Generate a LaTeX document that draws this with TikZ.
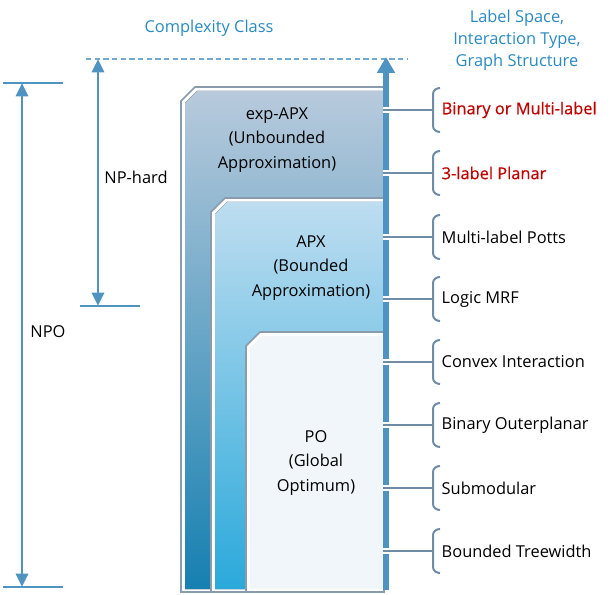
\documentclass[tikz,border=0pt]{standalone}
\usepackage{fontspec}
\setmainfont{Open Sans}
\newfontfamily\hardfont{Open Sans}[FakeBold=0.5]
\usetikzlibrary{arrows.meta,positioning}

\definecolor{axisblue}{HTML}{4F93C0}
\definecolor{headblue}{HTML}{2A8AC0}
\definecolor{hardred}{HTML}{C00000}
\definecolor{rimgrey}{HTML}{8A9CAC}
\definecolor{bracegrey}{HTML}{6F8CA6}
\definecolor{exptop}{RGB}{184,202,220}
\definecolor{expbot}{RGB}{22,128,176}
\definecolor{apxtop}{RGB}{190,221,240}
\definecolor{apxbot}{RGB}{42,169,219}
\definecolor{pofill}{RGB}{240,246,249}

\tikzset{
  dim/.style={axisblue, line width=2.2pt,
    {Triangle[width=9pt,length=10pt]}-{Triangle[width=9pt,length=10pt]}},
  bar/.style={axisblue, line width=2.2pt},
  spine/.style={axisblue, line width=4.5pt, -{Triangle[width=13pt,length=12pt]}},
  rim/.style={draw=rimgrey, line width=1.2pt, fill=white},
  classtext/.style={align=center, font=\fontsize{12.3}{18.3}\selectfont},
  proptext/.style={anchor=west, font=\fontsize{12.3}{14}\selectfont},
  hardtext/.style={anchor=west, font=\hardfont\fontsize{12.3}{14}\selectfont},
  headtext/.style={headblue, align=center, font=\fontsize{12.3}{16.5}\selectfont},
  branch/.style={bracegrey, line width=1.5pt},
}

% chamfered class region: left x, top y, fill style
\newcommand{\classshape}[3]{%
  \draw[rim] (#1,592) -- (#1,#2+14) -- (#1+14,#2) -- (384,#2) -- (384,592) -- cycle;
  \fill[#3] (#1+4,589) -- (#1+4,#2+16) -- (#1+16,#2+4) -- (384,#2+4) -- (384,589) -- cycle;
}

\begin{document}
\begin{tikzpicture}[x=0.75pt,y=-0.75pt]
  \useasboundingbox (0,0) rectangle (610,595);

  % headings
  \node[headtext] (classhead) at (209,28) {Complexity Class};
  \node[headtext] (prophead)  at (517,40) {Label Space,\\Interaction Type,\\Graph Structure};

  % nested classes
  \classshape{181}{87}{top color=exptop, bottom color=expbot}
  \classshape{211}{198}{top color=apxtop, bottom color=apxbot}
  \classshape{246}{332}{fill=pofill}

  \node[classtext] (expapx) at (277,140) {exp-APX\\(Unbounded\\Approximation)};
  \node[classtext] (apx)    at (311,268) {APX\\(Bounded\\Approximation)};
  \node[classtext] (po)     at (316,463) {PO\\(Global\\Optimum)};

  % upper limit
  \coordinate (topl) at (86,59);
  \coordinate (topr) at (408,59);
  \draw[axisblue!80, line width=1.2pt, dash pattern=on 4pt off 2.5pt] (topl) -- (topr);

  % NPO range
  \coordinate (npotop) at (22,83);
  \coordinate (npobot) at (22,587);
  \draw[bar] (3,83) -- (63,83);
  \draw[bar] (3,587) -- (63,587);
  \draw[dim] (npotop) -- (npobot);
  \node[classtext] (npo) at (48,332) {NPO};

  % NP-hard range
  \coordinate (hardtop) at (98,59);
  \coordinate (hardbot) at (98,306);
  \draw[bar] (80,306) -- (140,306);
  \draw[dim] (hardtop) -- (hardbot);
  \node[classtext] (nphard) at (136,177) {NP-hard};

  % main axis
  \coordinate (spinebot) at (386,590);
  \coordinate (spinetop) at (386,57);
  \draw[spine] (spinebot) -- (spinetop);

  % properties
  \foreach \yy/\txt/\sty/\col/\nm in {110/Binary or Multi-label/hardtext/hardred/a,
                                 173/3-label Planar/hardtext/hardred/b,
                                 237/Multi-label Potts/proptext/black/c,
                                 299/Logic MRF/proptext/black/d,
                                 362/Convex Interaction/proptext/black/e,
                                 425/Binary Outerplanar/proptext/black/f,
                                 488/Submodular/proptext/black/g,
                                 551/Bounded Treewidth/proptext/black/h}{
    \coordinate (tap\nm) at (383,\yy);
    \coordinate (brace\nm) at (433,\yy);
    \node[\sty, text=\col] (prop\nm) at (437,\yy) {\txt};
    \draw[branch, preaction={draw=white, line width=4.5pt}] (tap\nm) -- (brace\nm);
    \draw[branch] (440,\yy-22) to[out=180,in=90] (433,\yy-16) -- (433,\yy+16)
      to[out=-90,in=180] (440,\yy+22);
  }
\end{tikzpicture}
\end{document}
